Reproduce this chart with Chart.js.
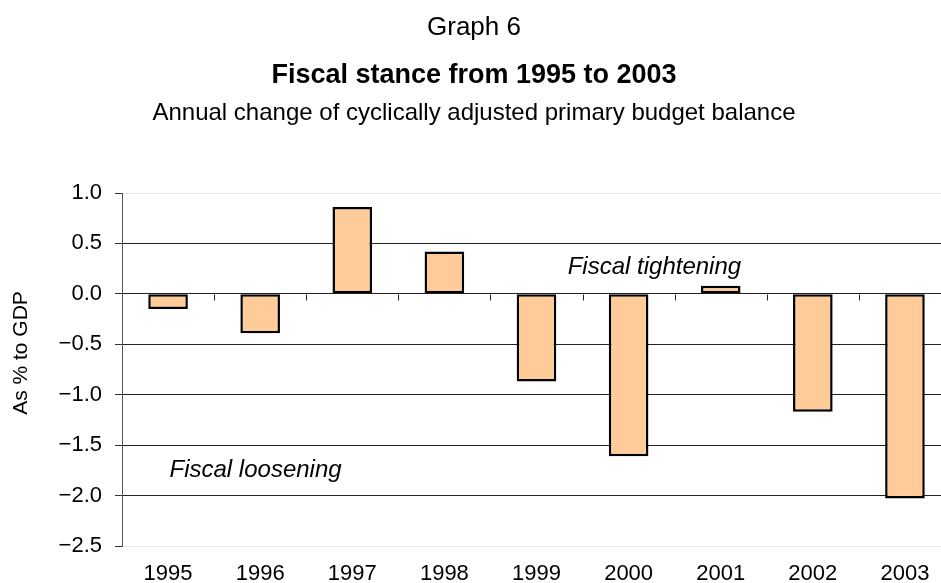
<!DOCTYPE html>
<html>
<head>
<meta charset="utf-8">
<title>Fiscal stance from 1995 to 2003</title>
<script src="https://cdn.jsdelivr.net/npm/chart.js@4/dist/chart.umd.min.js"></script>
<style>
    html, body { margin: 0; padding: 0; background: #fff; overflow: hidden; }
    #wrap { width: 951px; height: 583px; }
</style>
</head>
<body>
<div id="wrap"><canvas id="fiscalChart"></canvas></div>
<script>
"use strict";

const years = ["1995", "1996", "1997", "1998", "1999", "2000", "2001", "2002", "2003"];
const balanceChange = [-0.15, -0.39, 0.86, 0.42, -0.87, -1.61, 0.08, -1.17, -2.03];
const yTicks = [1.0, 0.5, 0.0, -0.5, -1.0, -1.5, -2.0, -2.5];

const headings = [
    { text: "Graph 6", y: 28, font: "normal 26px" },
    { text: "Fiscal stance from 1995 to 2003", y: 76, font: "bold 27px" },
    { text: "Annual change of cyclically adjusted primary budget balance", y: 113, font: "normal 24px" }
];
const notes = [
    { text: "Fiscal tightening", x: 5.28, y: 0.26 },
    { text: "Fiscal loosening", x: 0.95, y: -1.75 }
];
const axisTitle = "As % to GDP";

const FONT = "'Liberation Sans', Arial, sans-serif";

function formatTick(v)
{
    const s = Math.abs(v).toFixed(1);
    return v < 0 ? "\u2212" + s : s;
}

// headings, axis title, notes and the small ticks along the zero line
const decorations = {
    id: "decorations",
    afterDraw(chart) {
        const ctx = chart.ctx;
        const xs = chart.scales.x;
        const ys = chart.scales.y;
        const mid = 474;

        ctx.save();
        ctx.fillStyle = "#000";
        ctx.textAlign = "center";
        ctx.textBaseline = "middle";
        for (const h of headings) {
            ctx.font = `${h.font} ${FONT}`;
            ctx.fillText(h.text, mid, h.y);
        }

        ctx.font = `italic 24px ${FONT}`;
        for (const n of notes)
            ctx.fillText(n.text, xs.getPixelForValue(n.x), ys.getPixelForValue(n.y));

        ctx.save();
        ctx.translate(21, 353);
        ctx.rotate(-Math.PI / 2);
        ctx.font = `21px ${FONT}`;
        ctx.fillText(axisTitle, 0, 0);
        ctx.restore();

        const zero = Math.round(ys.getPixelForValue(0)) + 0.5;
        const step = xs.getPixelForValue(1) - xs.getPixelForValue(0);
        ctx.strokeStyle = "#222";
        ctx.lineWidth = 1;
        ctx.beginPath();
        for (let i = 0; i < years.length - 1; i++) {
            const x = Math.round(xs.getPixelForValue(i) + step / 2) + 0.5;
            ctx.moveTo(x, zero);
            ctx.lineTo(x, zero + 6);
        }
        ctx.stroke();
        ctx.restore();
    }
};

function buildChart()
{
    const ctx = document.getElementById("fiscalChart");

    new Chart(ctx, {
        type: "bar",
        data: {
            labels: years,
            datasets: [{
                data: balanceChange,
                backgroundColor: "#ffcc99",
                borderColor: "#000",
                borderWidth: 2.5,
                borderSkipped: false,
                barPercentage: 0.43,
                categoryPercentage: 1.0
            }]
        },
        options: {
            responsive: true,
            maintainAspectRatio: false,
            animation: false,
            layout: { padding: { top: 193, right: 0, bottom: 0, left: 0 } },
            plugins: {
                legend: { display: false },
                tooltip: { enabled: false },
                title: { display: false }
            },
            scales: {
                x: {
                    grid: { display: false, drawTicks: false },
                    border: { display: false },
                    ticks: {
                        color: "#000",
                        font: { family: FONT, size: 22 },
                        padding: 15,
                        maxRotation: 0
                    },
                    afterFit(scale) { scale.height = 37; }
                },
                y: {
                    min: -2.5,
                    max: 1.0,
                    afterBuildTicks(scale) {
                        scale.ticks = yTicks.map(v => ({ value: v }));
                    },
                    grid: {
                        color: c => (c.tick && (c.tick.value === 1 || c.tick.value === -2.5)) ? "#e6e6e6" : "#222",
                        tickColor: "#333",
                        tickLength: 7,
                        lineWidth: 1
                    },
                    border: { display: true, color: "#555", width: 1 },
                    ticks: {
                        color: "#000",
                        font: { family: FONT, size: 22 },
                        padding: 13,
                        callback: v => formatTick(v)
                    },
                    afterFit(scale) { scale.width = 122; }
                }
            }
        },
        plugins: [decorations]
    });
}

buildChart();
</script>
</body>
</html>
